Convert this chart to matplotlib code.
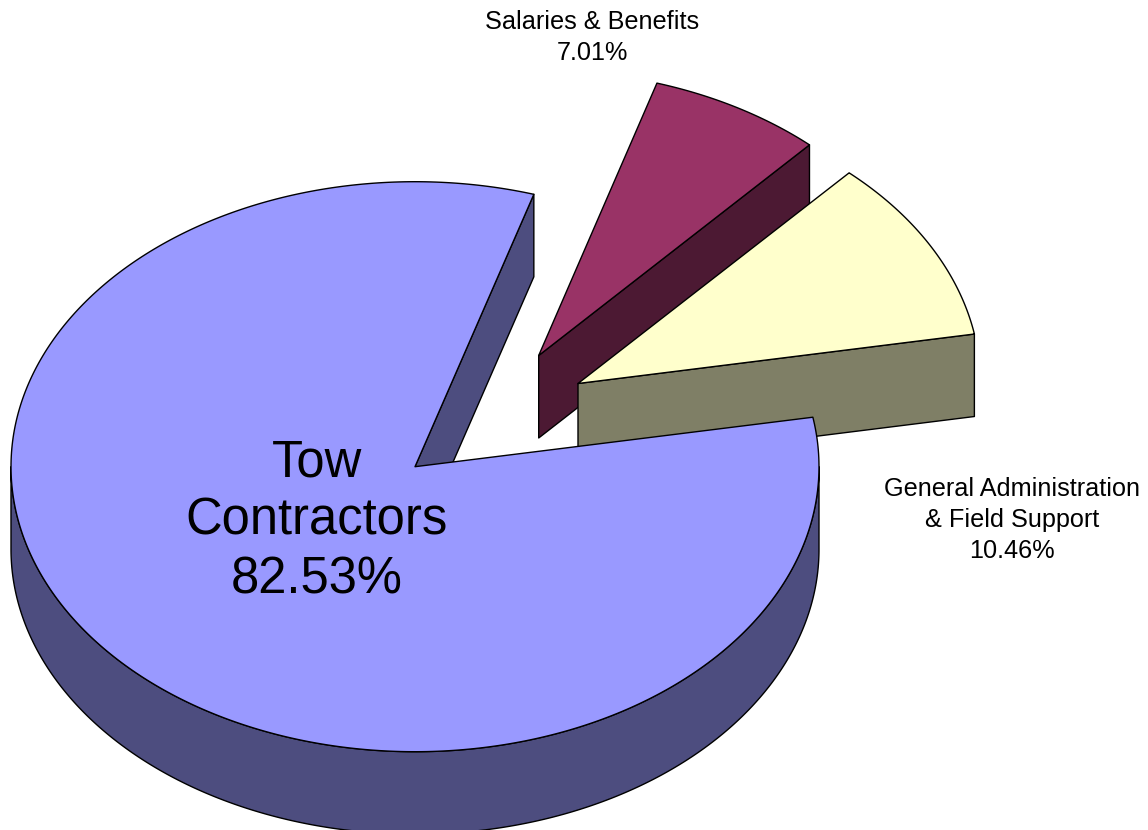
import numpy as np
import matplotlib
matplotlib.use("Agg")
import matplotlib.pyplot as plt

plt.rcParams['font.family'] = ['Liberation Sans', 'DejaVu Sans']

# Data, counter-clockwise from the start angle
shares = [10.46, 7.01, 82.53]
labels = ["General Administration\n& Field Support\n10.46%", "Salaries & Benefits\n7.01%", "Tow\nContractors\n82.53%"]
top_colors = ["#FFFFCC", "#993366", "#9999FF"]
side_colors = ["#7F7F66", "#4C1933", "#4D4D7F"]

START_ANGLE = 10.0
RY, DEPTH = 285.0, 82.5
radii = [402.5, 402.0, 404.0]
apexes = [(578.0, 383.5), (538.7, 355.5), (415.0, 466.7)]
label_pos = [(1012, 520), (592, 37.5), (317, 521)]
label_size = [18.2, 18.2, 36.5]
line_space = [1.345, 1.345, 1.25]


def arc(cx, cy, rx, a0, a1):
    t = np.radians(np.linspace(a0, a1, 400))
    return cx + rx * np.cos(t), cy - RY * np.sin(t)


fig = plt.figure(figsize=(11.48, 8.30), dpi=100)
ax = fig.add_axes([0, 0, 1, 1])
ax.set_xlim(0, 1148)
ax.set_ylim(830, 0)
ax.axis("off")

edges = np.cumsum([0.0] + shares) / 100.0 * 360.0 + START_ANGLE
style = dict(edgecolor="black", linewidth=1.0, joinstyle="round")

# Painter's order: maroon, yellow, then the big slice over both
for i in [1, 0, 2]:
    a0, a1 = edges[i], edges[i + 1]
    cx, cy = apexes[i]
    rx = radii[i]
    # cut face at the wedge's first edge
    ex, ey = arc(cx, cy, rx, a0, a0)
    ex, ey = ex[0], ey[0]
    ax.fill([cx, ex, ex, cx], [cy, ey, ey + DEPTH, cy + DEPTH],
            facecolor=side_colors[i], **style)
    # outer rim: only the part facing the viewer (180 to 360 degrees)
    if a1 > 180:
        xs, ys = arc(cx, cy, rx, max(a0, 180.0), min(a1, 360.0))
        ax.fill(np.r_[xs, xs[::-1]], np.r_[ys, ys[::-1] + DEPTH],
                facecolor=side_colors[i], **style)
    xs, ys = arc(cx, cy, rx, a0, a1)
    ax.fill(np.r_[cx, xs], np.r_[cy, ys], facecolor=top_colors[i], **style)
    ax.text(*label_pos[i], labels[i], ha="center", va="center",
            fontsize=label_size[i], color="black", linespacing=line_space[i],
            zorder=3)

fig.savefig("out.png", dpi=100, facecolor="white")
